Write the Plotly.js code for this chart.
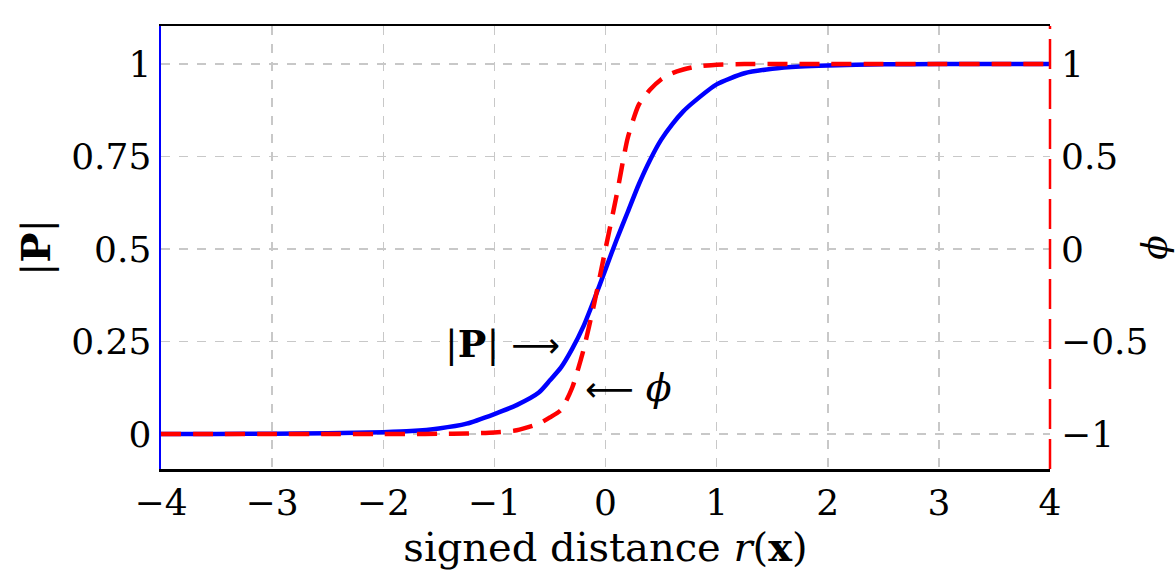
<!DOCTYPE html>
<html>
<head>
<meta charset="utf-8">
<script src="https://cdn.plot.ly/plotly-3.0.1.min.js"></script>
<style>html,body{margin:0;padding:0;background:#fff;}#chart{width:1175px;height:574px;}</style>
</head>
<body>
<div id="chart"></div>
<script>
// signed distance samples
const rValues = [-4,-3.5,-3,-2.5,-2,-1.75,-1.5,-1.25,-1,-0.8,-0.6,-0.5,-0.4,-0.3,-0.2,-0.1,0,0.1,0.2,0.3,0.4,0.5,0.6,0.7,0.8,1,1.25,1.5,1.75,2,2.5,3,3.5,4];
// |P| (left axis)
const pValues = [0,0,0.001,0.002,0.005,0.008,0.015,0.028,0.054,0.078,0.112,0.145,0.18,0.23,0.29,0.365,0.445,0.525,0.60,0.675,0.74,0.795,0.837,0.872,0.899,0.945,0.975,0.987,0.993,0.996,0.999,1,1,1];
// phi (right axis)
const phiValues = [-1,-1,-1,-1,-1,-1,-0.999,-0.997,-0.992,-0.98,-0.944,-0.91,-0.87,-0.75,-0.55,-0.29,0.0,0.29,0.60,0.78,0.86,0.916,0.95,0.97,0.984,0.996,0.999,1,1,1,1,1,1,1];

const xTicks = [-4,-3,-2,-1,0,1,2,3,4];
const xTickText = ['\u22124','\u22123','\u22122','\u22121','0','1','2','3','4'];
const pTicks = [0,0.25,0.5,0.75,1];
const pTickText = ['0','0.25','0.5','0.75','1'];
const phiTicks = [-1,-0.5,0,0.5,1];
const phiTickText = ['\u22121','\u22120.5','0','0.5','1'];

const FONT = 'DejaVu Serif, Liberation Serif, serif';
const FS = 36;
const ARROW = (a) => '<span style="font-family:DejaVu Sans;font-size:34px;">' + a + '</span>';

const traces = [
  {x: rValues, y: pValues, type: 'scatter', mode: 'lines', yaxis: 'y',
   line: {color: '#0000ff', width: 4.5, shape: 'spline', smoothing: 0.6}, name: '|P|'},
  {x: rValues, y: phiValues, type: 'scatter', mode: 'lines', yaxis: 'y2',
   line: {color: '#ff0000', width: 4.5, dash: '20px,12px', shape: 'spline', smoothing: 0.6}, name: 'phi'}
];

const gridCommon = {showgrid: true, gridcolor: '#c8c8c8', gridwidth: 1.5, griddash: 'dash', zeroline: false};

const layout = {
  width: 1175, height: 574,
  margin: {l: 161, r: 125, t: 26, b: 105},
  paper_bgcolor: '#fff', plot_bgcolor: '#fff',
  showlegend: false,
  font: {family: FONT, size: FS, color: '#000'},
  xaxis: Object.assign({}, gridCommon, {
    range: [-4, 4], tickvals: xTicks, ticktext: xTickText,
    showline: true, linecolor: '#000', linewidth: 2.5, mirror: true,
    ticks: '', ticklabelstandoff: 0,
    title: {text: 'signed distance <i>r</i>(<b>x</b>)', font: {family: FONT, size: 40}, standoff: 2}
  }),
  yaxis: Object.assign({}, gridCommon, {
    range: [-0.0946, 1.1027], tickvals: pTicks, ticktext: pTickText,
    showline: true, linecolor: '#0000ff', linewidth: 2.5,
    ticks: '', ticklabelstandoff: 0,
    title: {text: '|<b>P</b>|', font: {family: FONT, size: 40}, standoff: 8}
  }),
  yaxis2: {
    overlaying: 'y', side: 'right',
    range: [-1.189, 1.205], tickvals: phiTicks, ticktext: phiTickText,
    showgrid: false, zeroline: false, showline: false, ticks: '', ticklabelstandoff: 10,
    title: {text: '<i>ϕ</i>', font: {family: FONT, size: FS}, standoff: 10}
  },
  shapes: [
    {type: 'line', xref: 'paper', yref: 'paper', x0: 1, x1: 1, y0: 0, y1: 1,
     line: {color: '#ff0000', width: 2.5, dash: '30px,10px'}}
  ],
  annotations: [
    {x: -0.39, y: 0.245, xref: 'x', yref: 'y', xanchor: 'right', yanchor: 'middle',
     text: '|<b>P</b>| ' + ARROW('\u27F6'), showarrow: false, font: {family: FONT, size: 38}},
    {x: -0.2, y: 0.125, xref: 'x', yref: 'y', xanchor: 'left', yanchor: 'middle',
     text: ARROW('\u27F5') + ' <i>ϕ</i>', showarrow: false, font: {family: FONT, size: 38}}
  ]
};

Plotly.newPlot('chart', traces, layout, {displayModeBar: false, staticPlot: true});
</script>
</body>
</html>
